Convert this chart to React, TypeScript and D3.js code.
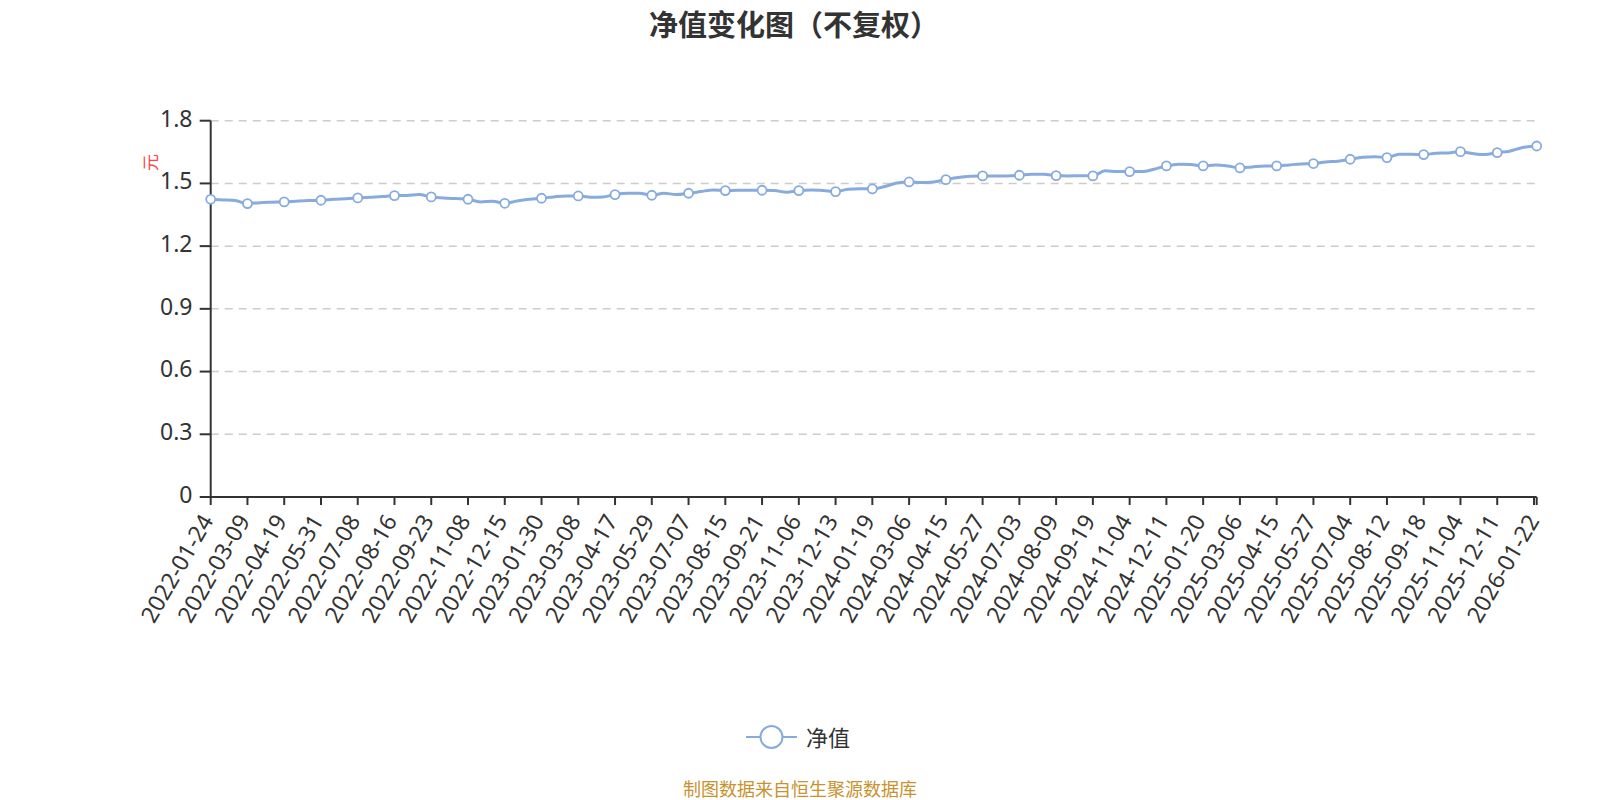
import React from 'react';
import * as d3 from 'd3';

const tickLabels: string[] = [
  '2022-01-24', '2022-03-09', '2022-04-19', '2022-05-31', '2022-07-08', '2022-08-16',
  '2022-09-23', '2022-11-08', '2022-12-15', '2023-01-30', '2023-03-08', '2023-04-17',
  '2023-05-29', '2023-07-07', '2023-08-15', '2023-09-21', '2023-11-06', '2023-12-13',
  '2024-01-19', '2024-03-06', '2024-04-15', '2024-05-27', '2024-07-03', '2024-08-09',
  '2024-09-19', '2024-11-04', '2024-12-11', '2025-01-20', '2025-03-06', '2025-04-15',
  '2025-05-27', '2025-07-04', '2025-08-12', '2025-09-18', '2025-11-04', '2025-12-11',
  '2026-01-22',
];

// trading-day spacing between labelled categories and between samples
const labelInterval = 27;
const sampleStep = 9;
const lastIndex = 974;

// 净值 sampled every 9 trading days (last value = final day)
const navValues: number[] = [
  1.424, 1.421, 1.418, 1.4035, 1.408, 1.410, 1.4115, 1.415, 1.418,
  1.4195, 1.424, 1.427, 1.4306, 1.434, 1.437, 1.4418, 1.442, 1.4466,
  1.4354, 1.4306, 1.4274, 1.4243, 1.4115, 1.415, 1.405, 1.416, 1.424,
  1.429, 1.4354, 1.440, 1.440, 1.434, 1.4354, 1.4466, 1.453, 1.453,
  1.4435, 1.453, 1.447, 1.453, 1.461, 1.469, 1.4657, 1.467, 1.467,
  1.4673, 1.4657, 1.458, 1.4657, 1.469, 1.4657, 1.461, 1.472, 1.475,
  1.4737, 1.485, 1.502, 1.507, 1.504, 1.507, 1.518, 1.528, 1.534,
  1.536, 1.536, 1.536, 1.539, 1.544, 1.544, 1.5375, 1.536, 1.537,
  1.536, 1.560, 1.5566, 1.5566, 1.5566, 1.568, 1.5837, 1.592, 1.590,
  1.5837, 1.5885, 1.5837, 1.574, 1.579, 1.5837, 1.5837, 1.5885, 1.593,
  1.595, 1.603, 1.606, 1.6156, 1.625, 1.628, 1.6236, 1.6396, 1.6396,
  1.638, 1.6444, 1.646, 1.652, 1.643, 1.638, 1.6475, 1.654, 1.671,
  1.679,
];

const yTicks: number[] = [0, 0.3, 0.6, 0.9, 1.2, 1.5, 1.8];

const CJK_FONT = '"Noto Sans CJK SC", "Noto Sans", sans-serif';
const NUM_FONT = '"Noto Sans", "Open Sans", sans-serif';
const LINE_COLOR = '#88abde';
const TEXT_COLOR = '#333';

export default function App() {
  const W = 1600;
  const H = 800;
  const left = 210.7;
  const right = 1536.7;
  const top = 120.7;
  const bottom = 497;

  const x = d3.scaleLinear().domain([0, lastIndex]).range([left, right]);
  const y = d3.scaleLinear().domain([0, 1.8]).range([bottom, top]);

  const points: [number, number][] = navValues.map((v, i) => [
    i === navValues.length - 1 ? lastIndex : i * sampleStep,
    v,
  ]);

  const line = d3
    .line<[number, number]>()
    .x((d) => x(d[0]))
    .y((d) => y(d[1]))
    .curve(d3.curveMonotoneX);

  const labelIdx = tickLabels.map((_, i) =>
    i === tickLabels.length - 1 ? lastIndex : i * labelInterval
  );
  const tickIdx = d3.range(0, tickLabels.length).map((i) => i * labelInterval);
  tickIdx.push(lastIndex);

  const stepRatio = labelInterval / sampleStep;
  const markers = labelIdx.map((idx, i) => {
    const v = i === tickLabels.length - 1 ? navValues[navValues.length - 1] : navValues[i * stepRatio];
    return [idx, v] as [number, number];
  });

  const labelAngle = -60;

  return (
    <svg
      width={W}
      height={H}
      style={{ position: 'absolute', left: 0, top: 0, display: 'block', background: '#fff' }}
      fontFamily={CJK_FONT}
    >
      {/* title */}
      <text
        x={794}
        y={22.5}
        textAnchor="middle"
        dominantBaseline="central"
        fontSize={29}
        fontWeight="bold"
        fill={TEXT_COLOR}
      >
        净值变化图（不复权）
      </text>

      {/* grid lines */}
      {yTicks.filter((t) => t > 0).map((t) => (
        <line
          key={'g' + t}
          x1={left}
          x2={right}
          y1={y(t)}
          y2={y(t)}
          stroke="#cccccc"
          strokeWidth={1.5}
          strokeDasharray="8 6"
        />
      ))}

      {/* y axis */}
      <line x1={left} x2={left} y1={top} y2={bottom} stroke={TEXT_COLOR} strokeWidth={2} />
      {yTicks.map((t) => (
        <g key={'y' + t}>
          <line x1={left - 11} x2={left} y1={y(t)} y2={y(t)} stroke={TEXT_COLOR} strokeWidth={2} />
          <text
            x={192.5}
            y={y(t) + 5.8}
            textAnchor="end"
            fontSize={23}
            fontFamily={NUM_FONT}
            fill={TEXT_COLOR}
          >
            {d3.format('')(t)}
          </text>
        </g>
      ))}
      <text
        x={0}
        y={0}
        transform={`translate(149,162.5) rotate(-90)`}
        textAnchor="middle"
        dominantBaseline="central"
        fontSize={17}
        fill="#ff4444"
      >
        元
      </text>

      {/* x axis */}
      <line x1={left} x2={right} y1={bottom} y2={bottom} stroke={TEXT_COLOR} strokeWidth={2} />
      {tickIdx.map((idx, i) => (
        <line
          key={'xt' + i}
          x1={x(idx)}
          x2={x(idx)}
          y1={bottom}
          y2={bottom + 8}
          stroke={TEXT_COLOR}
          strokeWidth={2}
        />
      ))}
      {tickLabels.map((lab, i) => (
        <text
          key={'xl' + i}
          transform={`translate(${x(labelIdx[i]) - 4.5},${bottom + 19}) rotate(${labelAngle})`}
          textAnchor="end"
          dominantBaseline="central"
          fontSize={23}
          fontFamily={NUM_FONT}
          fill={TEXT_COLOR}
        >
          {lab}
        </text>
      ))}

      {/* series line */}
      <path d={line(points) || ''} fill="none" stroke={LINE_COLOR} strokeWidth={3} strokeLinejoin="round" />
      {markers.map((m, i) => (
        <circle
          key={'m' + i}
          cx={x(m[0])}
          cy={y(m[1])}
          r={4.5}
          fill="#fff"
          stroke={LINE_COLOR}
          strokeWidth={1.8}
        />
      ))}

      {/* legend */}
      <line x1={746} x2={797} y1={737} y2={737} stroke={LINE_COLOR} strokeWidth={2} />
      <circle cx={771.5} cy={737} r={11} fill="#fff" stroke={LINE_COLOR} strokeWidth={2} />
      <text x={806} y={736} dominantBaseline="central" fontSize={22} fill={TEXT_COLOR}>
        净值
      </text>

      {/* footer */}
      <text
        x={800}
        y={787.5}
        textAnchor="middle"
        dominantBaseline="central"
        fontSize={18}
        fill="#c8922e"
      >
        制图数据来自恒生聚源数据库
      </text>
    </svg>
  );
}
